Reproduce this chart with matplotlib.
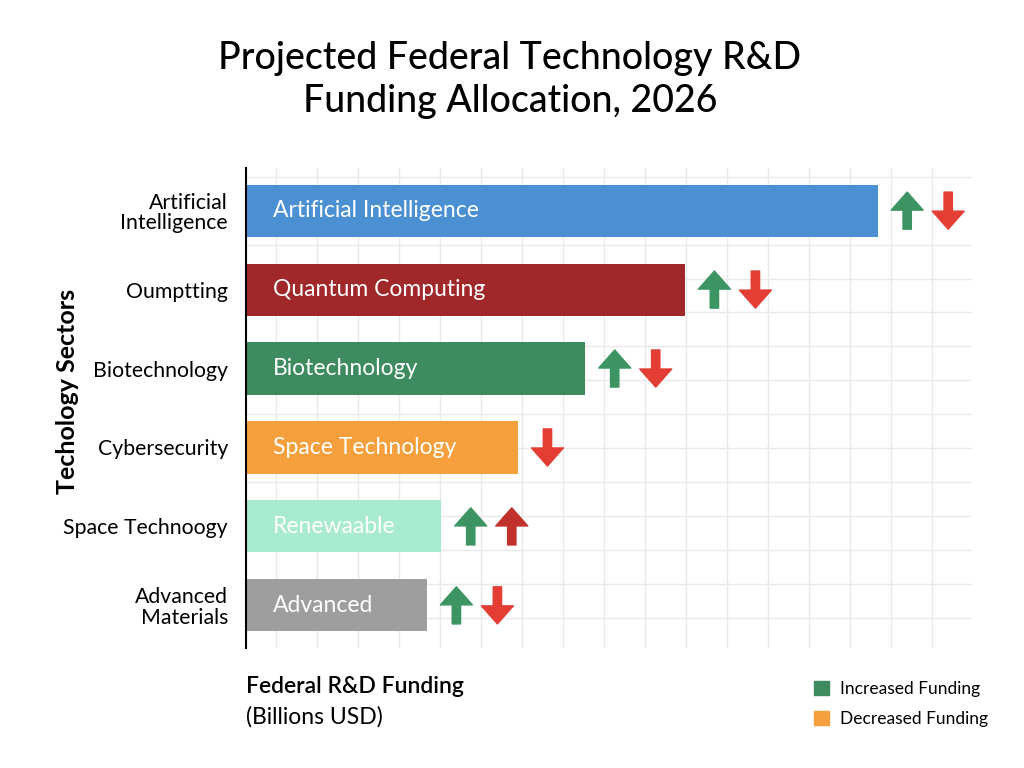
import matplotlib.pyplot as plt
from matplotlib.ticker import MultipleLocator
from matplotlib.patches import Patch

plt.rcParams['font.family'] = ['Lato', 'DejaVu Sans']

# Data
sectors = ['Artificial\nIntelligence', 'Oumptting', 'Biotechnology',
           'Cybersecurity', 'Space Technoogy', 'Advanced\nMaterials']
bar_labels = ['Artificial Intelligence', 'Quantum Computing', 'Biotechnology',
              'Space Technology', 'Renewaable', 'Advanced']
funding = [15.4, 10.7, 8.27, 6.63, 4.76, 4.41]
bar_colors = ['#4b90d2', '#a0282a', '#3d8b5f', '#f5a03c', '#a9ebd1', '#9e9e9e']
# arrows after each bar: (direction, colour)
arrows = [
    [('up', '#3d9463'), ('down', '#e33d34')],
    [('up', '#3d9463'), ('down', '#e33d34')],
    [('up', '#3d9463'), ('down', '#e33d34')],
    [('down', '#e33d34')],
    [('up', '#3d9463'), ('up', '#c0312b')],
    [('up', '#3d9463'), ('down', '#e33d34')],
]

fig = plt.figure(figsize=(10.24, 7.68), dpi=100)
ax = fig.add_axes([0.2402, 0.15625, 0.7090, 0.625])

y = list(range(len(sectors)))
ax.barh(y, funding, height=0.66, color=bar_colors, zorder=2)

for i, (val, lab) in enumerate(zip(funding, bar_labels)):
    ax.text(0.66, i, lab, color='white', fontsize=16.5, va='center', ha='left', zorder=3)
    for k, (direction, col) in enumerate(arrows[i]):
        xa = val + 0.72 + k * 1.0
        top, bottom = i - 0.235, i + 0.235
        if direction == 'up':
            start, end = bottom, top
        else:
            start, end = top, bottom
        ax.annotate('', xy=(xa, end), xytext=(xa, start),
                    arrowprops=dict(arrowstyle='simple,head_length=0.65,head_width=1.15,tail_width=0.3',
                                    color=col, shrinkA=0, shrinkB=0, mutation_scale=20),
                    zorder=3)

ax.set_xlim(0, 17.7)
ax.set_ylim(len(sectors) - 0.46, -0.54)
ax.set_yticks(y)
ax.set_yticklabels(sectors, fontsize=15.3, linespacing=1.05)
ax.tick_params(axis='y', length=0, pad=13)
ax.tick_params(axis='x', length=0, labelbottom=False)
ax.set_xticks([i + 0.73 for i in range(17)])
ax.yaxis.set_minor_locator(MultipleLocator(0.43))
ax.grid(True, axis='x', color='#e9e9e9', linewidth=1, zorder=0)
ax.grid(True, axis='y', which='minor', color='#e9e9e9', linewidth=1, zorder=0)
ax.tick_params(axis='y', which='minor', length=0)

for s in ['top', 'right', 'bottom']:
    ax.spines[s].set_visible(False)
ax.spines['left'].set_linewidth(1.5)

fig.text(0.066, 0.49, 'Techology Sectors', rotation=90, fontsize=18, fontweight='bold',
         ha='center', va='center')

fig.suptitle('Projected Federal Technology R&D\nFunding Allocation, 2026',
             x=0.498, y=0.896, va='center', fontsize=27, fontweight='medium', linespacing=1.28)

fig.text(0.2402, 0.106, 'Federal R&D Funding', fontsize=16.5, fontweight='semibold',
         ha='left', va='center')
fig.text(0.2402, 0.067, '(Billions USD)', fontsize=16.5, ha='left', va='center')

handles = [Patch(color='#3d8b5f', label='Increased Funding'),
           Patch(color='#f5a03c', label='Decreased Funding')]
fig.legend(handles=handles, loc='lower right', bbox_to_anchor=(0.98, 0.033), frameon=False,
           fontsize=12.5, handlelength=0.9, handleheight=0.9, handletextpad=0.6, labelspacing=0.8)

fig.savefig('out.png', dpi=100, facecolor='white')
